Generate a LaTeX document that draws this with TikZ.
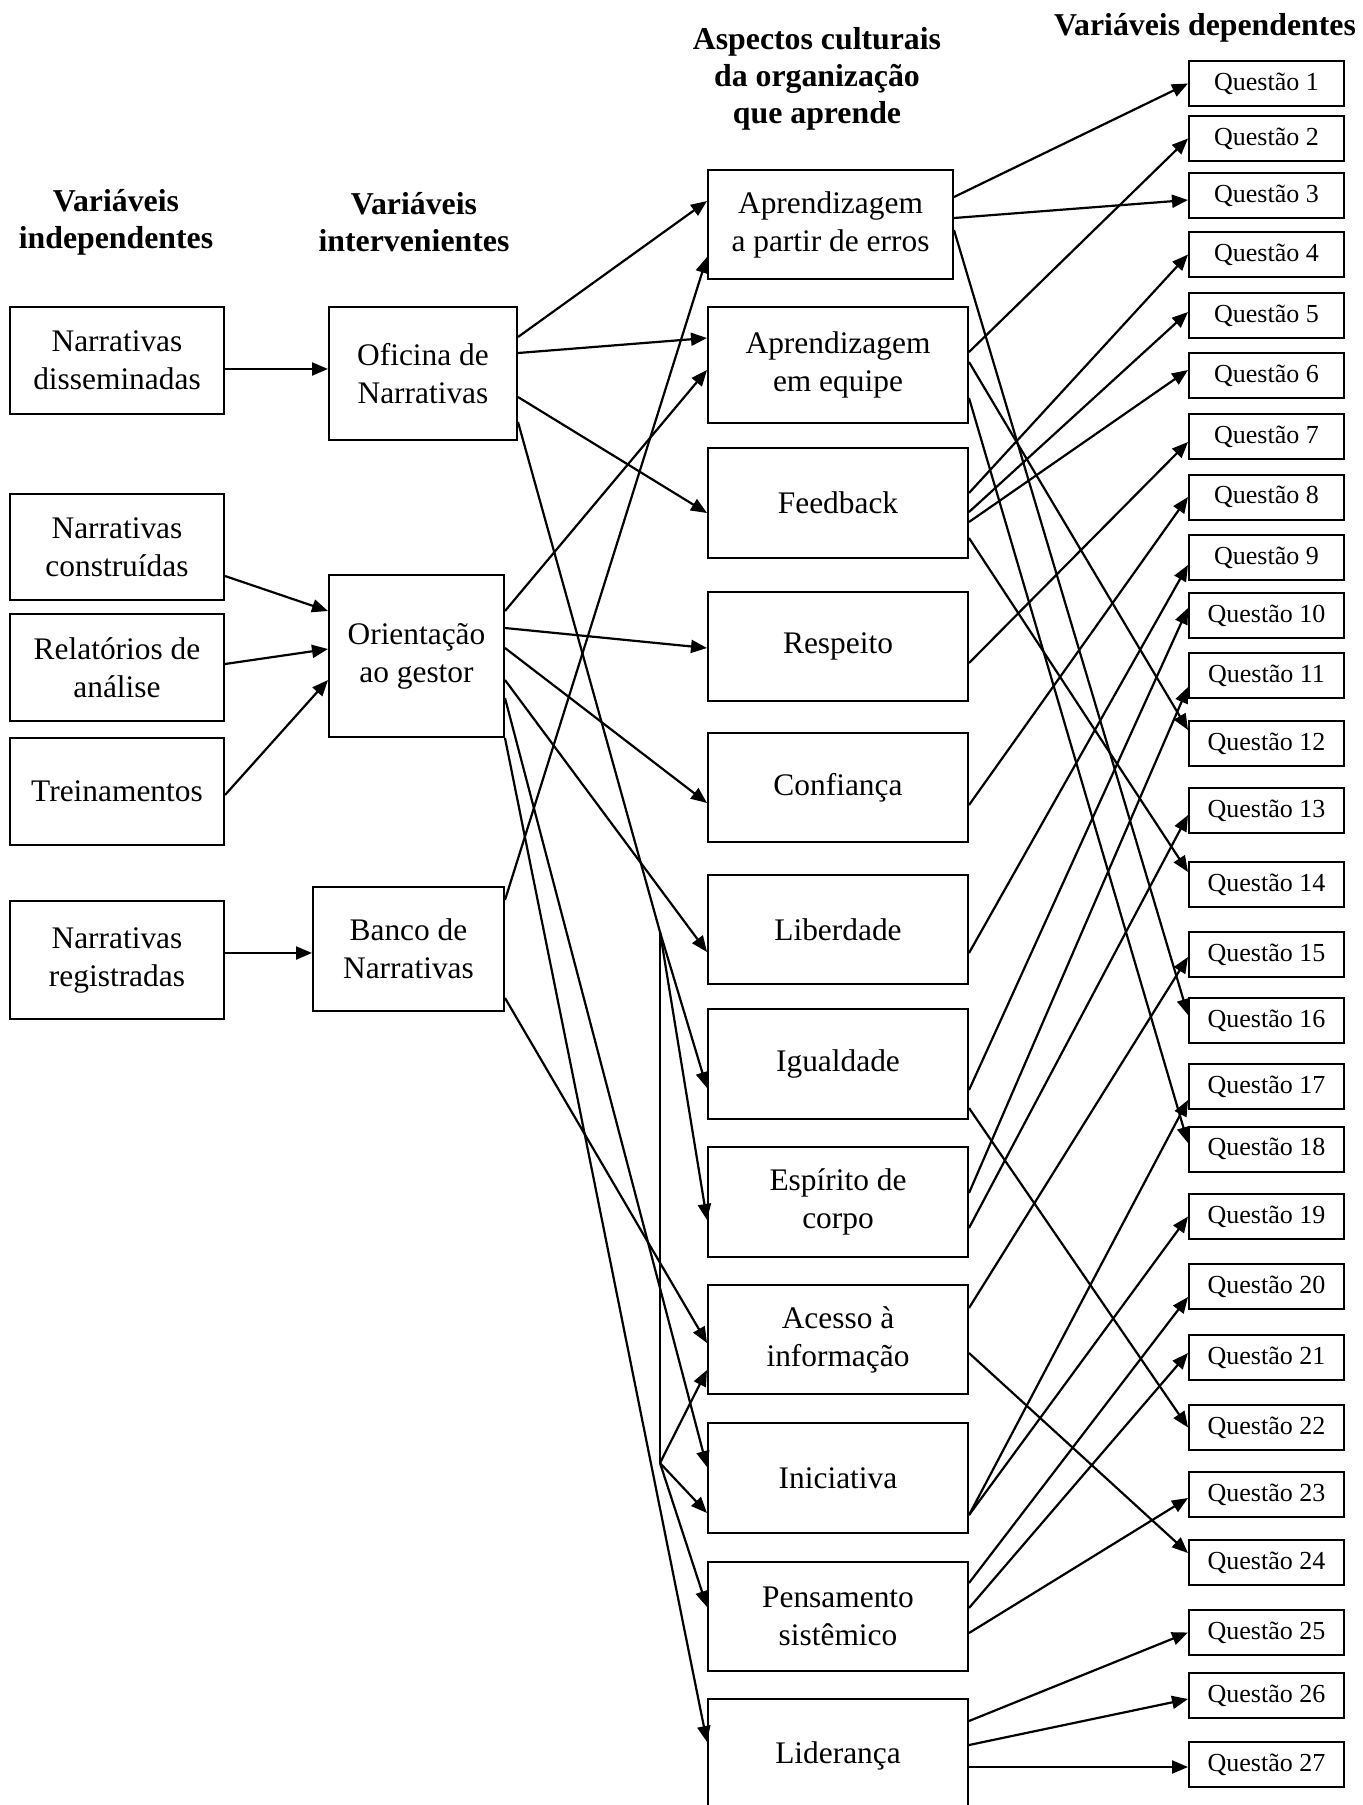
\documentclass[tikz,border=0pt]{standalone}
\usepackage{fontspec}
\setmainfont{Liberation Serif}
\usetikzlibrary{arrows.meta}
\tikzset{
  box/.style={draw,line width=1pt,align=center,inner sep=2pt,font=\fontsize{15.7}{19}\selectfont},
  qbox/.style={draw,line width=1pt,minimum width=77.5pt,minimum height=22.5pt,inner sep=0pt,font=\fontsize{13}{15}\selectfont},
  head/.style={align=center,font=\bfseries\fontsize{15.9}{18.4}\selectfont},
  link/.style={-{Triangle[length=8pt,width=6.5pt]},line width=1.1pt},
  plain/.style={line width=1.1pt},
}
\begin{document}
\begin{tikzpicture}[x=0.5pt,y=-0.5pt]
\useasboundingbox (0,0) rectangle (1362,1805);
% headings
\node[head] (hind) at (116,222) {Variáveis\\independentes};
\node[head] (hint) at (414,222) {Variáveis\\intervenientes};
\node[head] (hasp) at (817,79) {Aspectos culturais\\da organização\\que aprende};
\node[head] (hdep) at (1205,28) {Variáveis dependentes};
% independent variables
\node[box,minimum width=107pt,minimum height=53.5pt] (dissem) at (117,360.5) {Narrativas\\disseminadas};
\node[box,minimum width=107pt,minimum height=53pt] (constr) at (117,547) {Narrativas\\construídas};
\node[box,minimum width=107pt,minimum height=53.5pt] (relat) at (117,667.5) {Relatórios de\\análise};
\node[box,minimum width=107pt,minimum height=53.5pt] (trein) at (117,791.5) {Treinamentos};
\node[box,minimum width=107pt,minimum height=59pt] (regist) at (117,960) {Narrativas\\registradas};
% intervening variables
\node[box,minimum width=94pt,minimum height=66.5pt] (oficina) at (423,373.5) {Oficina de\\Narrativas};
\node[box,minimum width=87.5pt,minimum height=81pt] (orient) at (416.5,656) {Orientação\\ao gestor};
\node[box,minimum width=95.5pt,minimum height=62pt] (banco) at (408.5,949) {Banco de\\Narrativas};
% cultural aspects
\node[box,minimum width=122.5pt,minimum height=54.5pt] (apr1) at (830.5,224.5) {Aprendizagem\\a partir de erros};
\node[box,minimum width=130pt,minimum height=58pt] (apr2) at (838,365) {Aprendizagem\\em equipe};
\node[box,minimum width=130pt,minimum height=55pt] (feed) at (838,503) {Feedback};
\node[box,minimum width=130pt,minimum height=54.5pt] (resp) at (838,646.5) {Respeito};
\node[box,minimum width=130pt,minimum height=54.5pt] (conf) at (838,787.5) {Confiança};
\node[box,minimum width=130pt,minimum height=54.5pt] (lib) at (838,929.5) {Liberdade};
\node[box,minimum width=130pt,minimum height=55pt] (igual) at (838,1064) {Igualdade};
\node[box,minimum width=130pt,minimum height=55pt] (espir) at (838,1202) {Espírito de\\corpo};
\node[box,minimum width=130pt,minimum height=54.5pt] (acesso) at (838,1339.5) {Acesso à\\informação};
\node[box,minimum width=130pt,minimum height=55pt] (inic) at (838,1478) {Iniciativa};
\node[box,minimum width=130pt,minimum height=54.5pt] (pens) at (838,1616.5) {Pensamento\\sistêmico};
\node[box,minimum width=130pt,minimum height=57pt] (lider) at (838,1756) {Liderança};
% dependent variables
\foreach \i/\y in {1/83.5,2/138.5,3/195.5,4/254.5,5/315.5,6/375.5,7/436.5,8/497,9/557.5,
  10/615.5,11/675.5,12/743.5,13/810.5,14/884.5,15/954.5,16/1020.5,17/1086.5,18/1149,
  19/1216.5,20/1286.5,21/1357.5,22/1427.5,23/1494.5,24/1562.5,25/1632.5,26/1695.5,27/1764.5}
  \node[qbox] (q\i) at (1266.5,\y) {Questão \i};
% independent -> intervening
\draw[link] (dissem.east |- 0,369) -- (oficina.west |- 0,369);
\draw[link] (constr.east |- 0,576) -- (orient.west |- 0,611);
\draw[link] (relat.east |- 0,664) -- (orient.west |- 0,649);
\draw[link] (trein.east |- 0,795) -- (orient.west |- 0,680);
\draw[link] (regist.east |- 0,953) -- (banco.west |- 0,953);
% intervening -> cultural aspects
\coordinate (j1) at (660,932);
\coordinate (j2) at (660,1463);
\draw[link] (oficina.east |- 0,337) -- (apr1.west |- 0,201);
\draw[link] (oficina.east |- 0,353) -- (apr2.west |- 0,338);
\draw[link] (oficina.east |- 0,397) -- (feed.west |- 0,513);
\draw[plain] (oficina.east |- 0,422) -- (j1);
\draw[link] (j1) -- (igual.west |- 0,1088);
\draw[link] (j1) -- (espir.west |- 0,1220);
\draw[plain] (j1) -- (j2);
\draw[link] (j2) -- (acesso.west |- 0,1370);
\draw[link] (j2) -- (inic.west |- 0,1513);
\draw[link] (j2) -- (pens.west |- 0,1607);
\draw[link] (orient.east |- 0,611) -- (apr2.west |- 0,370);
\draw[link] (orient.east |- 0,628) -- (resp.west |- 0,648);
\draw[link] (orient.east |- 0,648) -- (conf.west |- 0,803);
\draw[link] (orient.east |- 0,680) -- (lib.west |- 0,952);
\draw[link] (orient.east |- 0,698) -- (inic.west |- 0,1467);
\draw[link] (orient.south east) -- (lider.west |- 0,1742);
\draw[link] (banco.east |- 0,900) -- (apr1.west |- 0,257);
\draw[link] (banco.east |- 0,998) -- (acesso.west |- 0,1343);
% cultural aspects -> questions
\draw[link] (apr1.east |- 0,197) -- (q1.west);
\draw[link] (apr1.east |- 0,218) -- (q3.west |- 0,200);
\draw[link] (apr1.east |- 0,230) -- (q16.west |- 0,1015);
\draw[link] (apr2.east |- 0,352) -- (q2.west);
\draw[link] (apr2.east |- 0,362) -- (q12.west |- 0,730);
\draw[link] (apr2.east |- 0,398) -- (q18.west |- 0,1143);
\draw[link] (feed.east |- 0,493) -- (q4.west);
\draw[link] (feed.east |- 0,512) -- (q5.west |- 0,312);
\draw[link] (feed.east |- 0,522) -- (q6.west |- 0,370);
\draw[link] (feed.east |- 0,538) -- (q14.west |- 0,872);
\draw[link] (resp.east |- 0,663) -- (q7.west |- 0,442);
\draw[link] (conf.east |- 0,805) -- (q8.west);
\draw[link] (lib.east |- 0,953) -- (q9.west |- 0,565);
\draw[link] (igual.east |- 0,1090) -- (q10.west |- 0,608);
\draw[link] (igual.east |- 0,1108) -- (q22.west);
\draw[link] (espir.east |- 0,1193) -- (q11.west |- 0,687);
\draw[link] (espir.east |- 0,1228) -- (q13.west |- 0,815);
\draw[link] (acesso.east |- 0,1308) -- (q15.west |- 0,957);
\draw[link] (acesso.east |- 0,1353) -- (q24.west |- 0,1553);
\draw[link] (inic.east |- 0,1515) -- (q17.west |- 0,1100);
\draw[link] (inic.east |- 0,1515) -- (q19.west);
\draw[link] (pens.east |- 0,1583) -- (q20.west |- 0,1297);
\draw[link] (pens.east |- 0,1608) -- (q21.west |- 0,1353);
\draw[link] (pens.east |- 0,1633) -- (q23.west |- 0,1498);
\draw[link] (lider.east |- 0,1721) -- (q25.west);
\draw[link] (lider.east |- 0,1745) -- (q26.west |- 0,1699);
\draw[link] (lider.east |- 0,1767) -- (q27.west |- 0,1767);
\end{tikzpicture}
\end{document}
